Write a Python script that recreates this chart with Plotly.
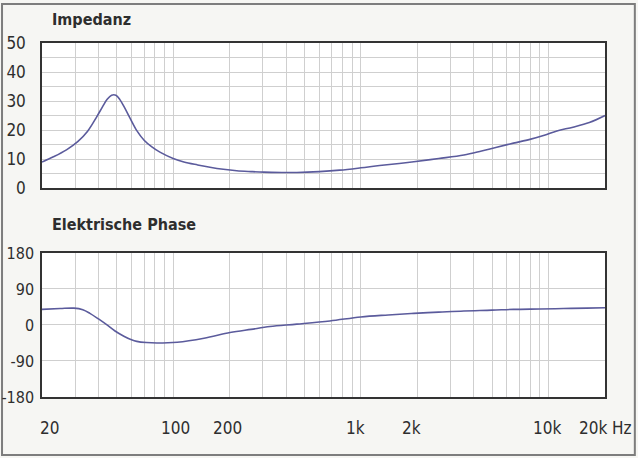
import math
import plotly.graph_objects as go

# ---- data ----
imp_freq = [20, 23, 27, 31, 35, 39, 42, 44.5, 47, 49.5, 52, 55, 59, 64, 70, 77, 85, 100, 114, 135, 157, 185, 218, 260, 304, 380, 456, 600, 772, 1000, 1260, 1600, 1916, 2600, 3540, 4400, 5300, 6500, 7960, 9500, 11080, 13500, 16500, 20000]
imp_ohm = [9.0, 10.8, 13.2, 16.0, 19.6, 24.4, 28.0, 30.6, 32.0, 32.0, 30.5, 27.8, 24.0, 19.8, 16.5, 14.2, 12.4, 10.2, 9.0, 8.0, 7.2, 6.5, 6.0, 5.7, 5.5, 5.4, 5.4, 5.7, 6.2, 7.0, 7.8, 8.5, 9.1, 10.2, 11.4, 12.8, 14.1, 15.5, 16.8, 18.2, 19.7, 21.0, 22.6, 25.0]

ph_freq = [20, 25, 29.6, 33, 36, 40, 44.4, 49, 54.6, 60, 64, 72, 82, 105, 146, 201, 260, 328, 456, 684, 1000, 1400, 1916, 2600, 3540, 5000, 6500, 9000, 12000, 16000, 20000]
ph_deg = [39, 41, 42, 38, 29, 15, 0, -15, -28, -37, -41, -44, -45, -43, -33, -19, -11, -4, 2, 10, 20, 25, 29, 32, 35, 37, 39, 40, 41, 42, 43]

x_grid = [m * 10 ** d for d in (1, 2, 3) for m in range(1, 10)] + [10000, 20000]
x_grid = [v for v in x_grid if 20 <= v <= 20000]
x_label_vals = [20, 100, 200, 1000, 2000, 10000, 20000]
x_label_text = ["20", "100", "200", "1k", "2k", "10k", "20k"]
x_label_shift = [7, 2, -2, -5, -6, -2, -12]  # px nudges as printed

imp_ticks = [0, 10, 20, 30, 40, 50]
imp_grid = [0, 5, 10, 15, 20, 25, 30, 35, 40, 45, 50]
ph_ticks = [-180, -90, 0, 90, 180]
ph_tick_text = ["-180", "-90", "0", "90", "180"]

FONT = "Liberation Sans Narrow, DejaVu Sans Condensed, Roboto, sans-serif"
TXT = "#2e2e2e"
LINE = "#5b5b9c"
GRID = "#cfcfcf"

fig = go.Figure()
fig.add_trace(go.Scatter(x=imp_freq, y=imp_ohm, mode="lines", line=dict(color=LINE, width=1.6, shape="spline"),
                         xaxis="x", yaxis="y", showlegend=False))
fig.add_trace(go.Scatter(x=ph_freq, y=ph_deg, mode="lines", line=dict(color=LINE, width=1.6, shape="spline"),
                         xaxis="x2", yaxis="y2", showlegend=False))

xr = [math.log10(20), math.log10(20000)]
common_x = dict(type="log", range=xr, showgrid=True, gridcolor=GRID, gridwidth=1, automargin=False,
                showline=True, linecolor="#333", linewidth=1.5, mirror=True, zeroline=False,
                tickmode="array", tickvals=x_grid, ticks="", showticklabels=False)

fig.update_layout(
    template="none",
    width=638, height=458,
    margin=dict(l=42, r=33, t=43, b=61, autoexpand=False),
    paper_bgcolor="#f6f6f3", plot_bgcolor="white",
    font=dict(family=FONT, color=TXT, size=17),
    xaxis=dict(domain=[0, 1], anchor="y", **common_x),
    yaxis=dict(domain=[0.590, 1.0], anchor="x", range=[0, 50], tickmode="array", automargin=False,
               tickvals=imp_grid, ticktext=[str(v) if v in imp_ticks else "" for v in imp_grid],
               showgrid=True, gridcolor=GRID, showline=True, linecolor="#333", linewidth=1.5,
               mirror=True, zeroline=False, ticks="", ticklabelstandoff=11, tickfont=dict(size=17)),
    xaxis2=dict(domain=[0, 1], anchor="y2", **common_x),
    yaxis2=dict(domain=[0, 0.407], anchor="x2", range=[-180, 180], tickmode="array", automargin=False,
                tickvals=ph_ticks, ticktext=ph_tick_text, showgrid=True, gridcolor=GRID, showline=True,
                linecolor="#333", linewidth=1.5, mirror=True, zeroline=False, ticks="",
                ticklabelstandoff=3, tickfont=dict(size=16)),
)

for v, t, s in zip(x_label_vals, x_label_text, x_label_shift):
    fig.add_annotation(text=t, xref="x2", yref="paper", x=math.log10(v), y=-0.0876, xshift=s,
                       xanchor="center", yanchor="middle", showarrow=False, font=dict(size=17, color=TXT))

fig.add_annotation(text="<b>Impedanz</b>", xref="paper", yref="paper", x=0.014, y=1.065,
                   xanchor="left", yanchor="middle", showarrow=False, font=dict(size=16, color=TXT))
fig.add_annotation(text="<b>Elektrische Phase</b>", xref="paper", yref="paper", x=0.014, y=0.486,
                   xanchor="left", yanchor="middle", showarrow=False, font=dict(size=16, color=TXT))
fig.add_annotation(text="Hz", xref="paper", yref="paper", x=1.030, y=-0.0876,
                   xanchor="center", yanchor="middle", showarrow=False, font=dict(size=17, color=TXT))

fig.add_shape(type="rect", xref="paper", yref="paper", x0=-0.071, x1=1.053, y0=-0.164, y1=1.110,
              line=dict(color="#7d7d7d", width=2), fillcolor="rgba(0,0,0,0)", layer="below")

fig.write_html("out.html", config={"displayModeBar": False},
               post_script="document.body.style.margin='0';")
